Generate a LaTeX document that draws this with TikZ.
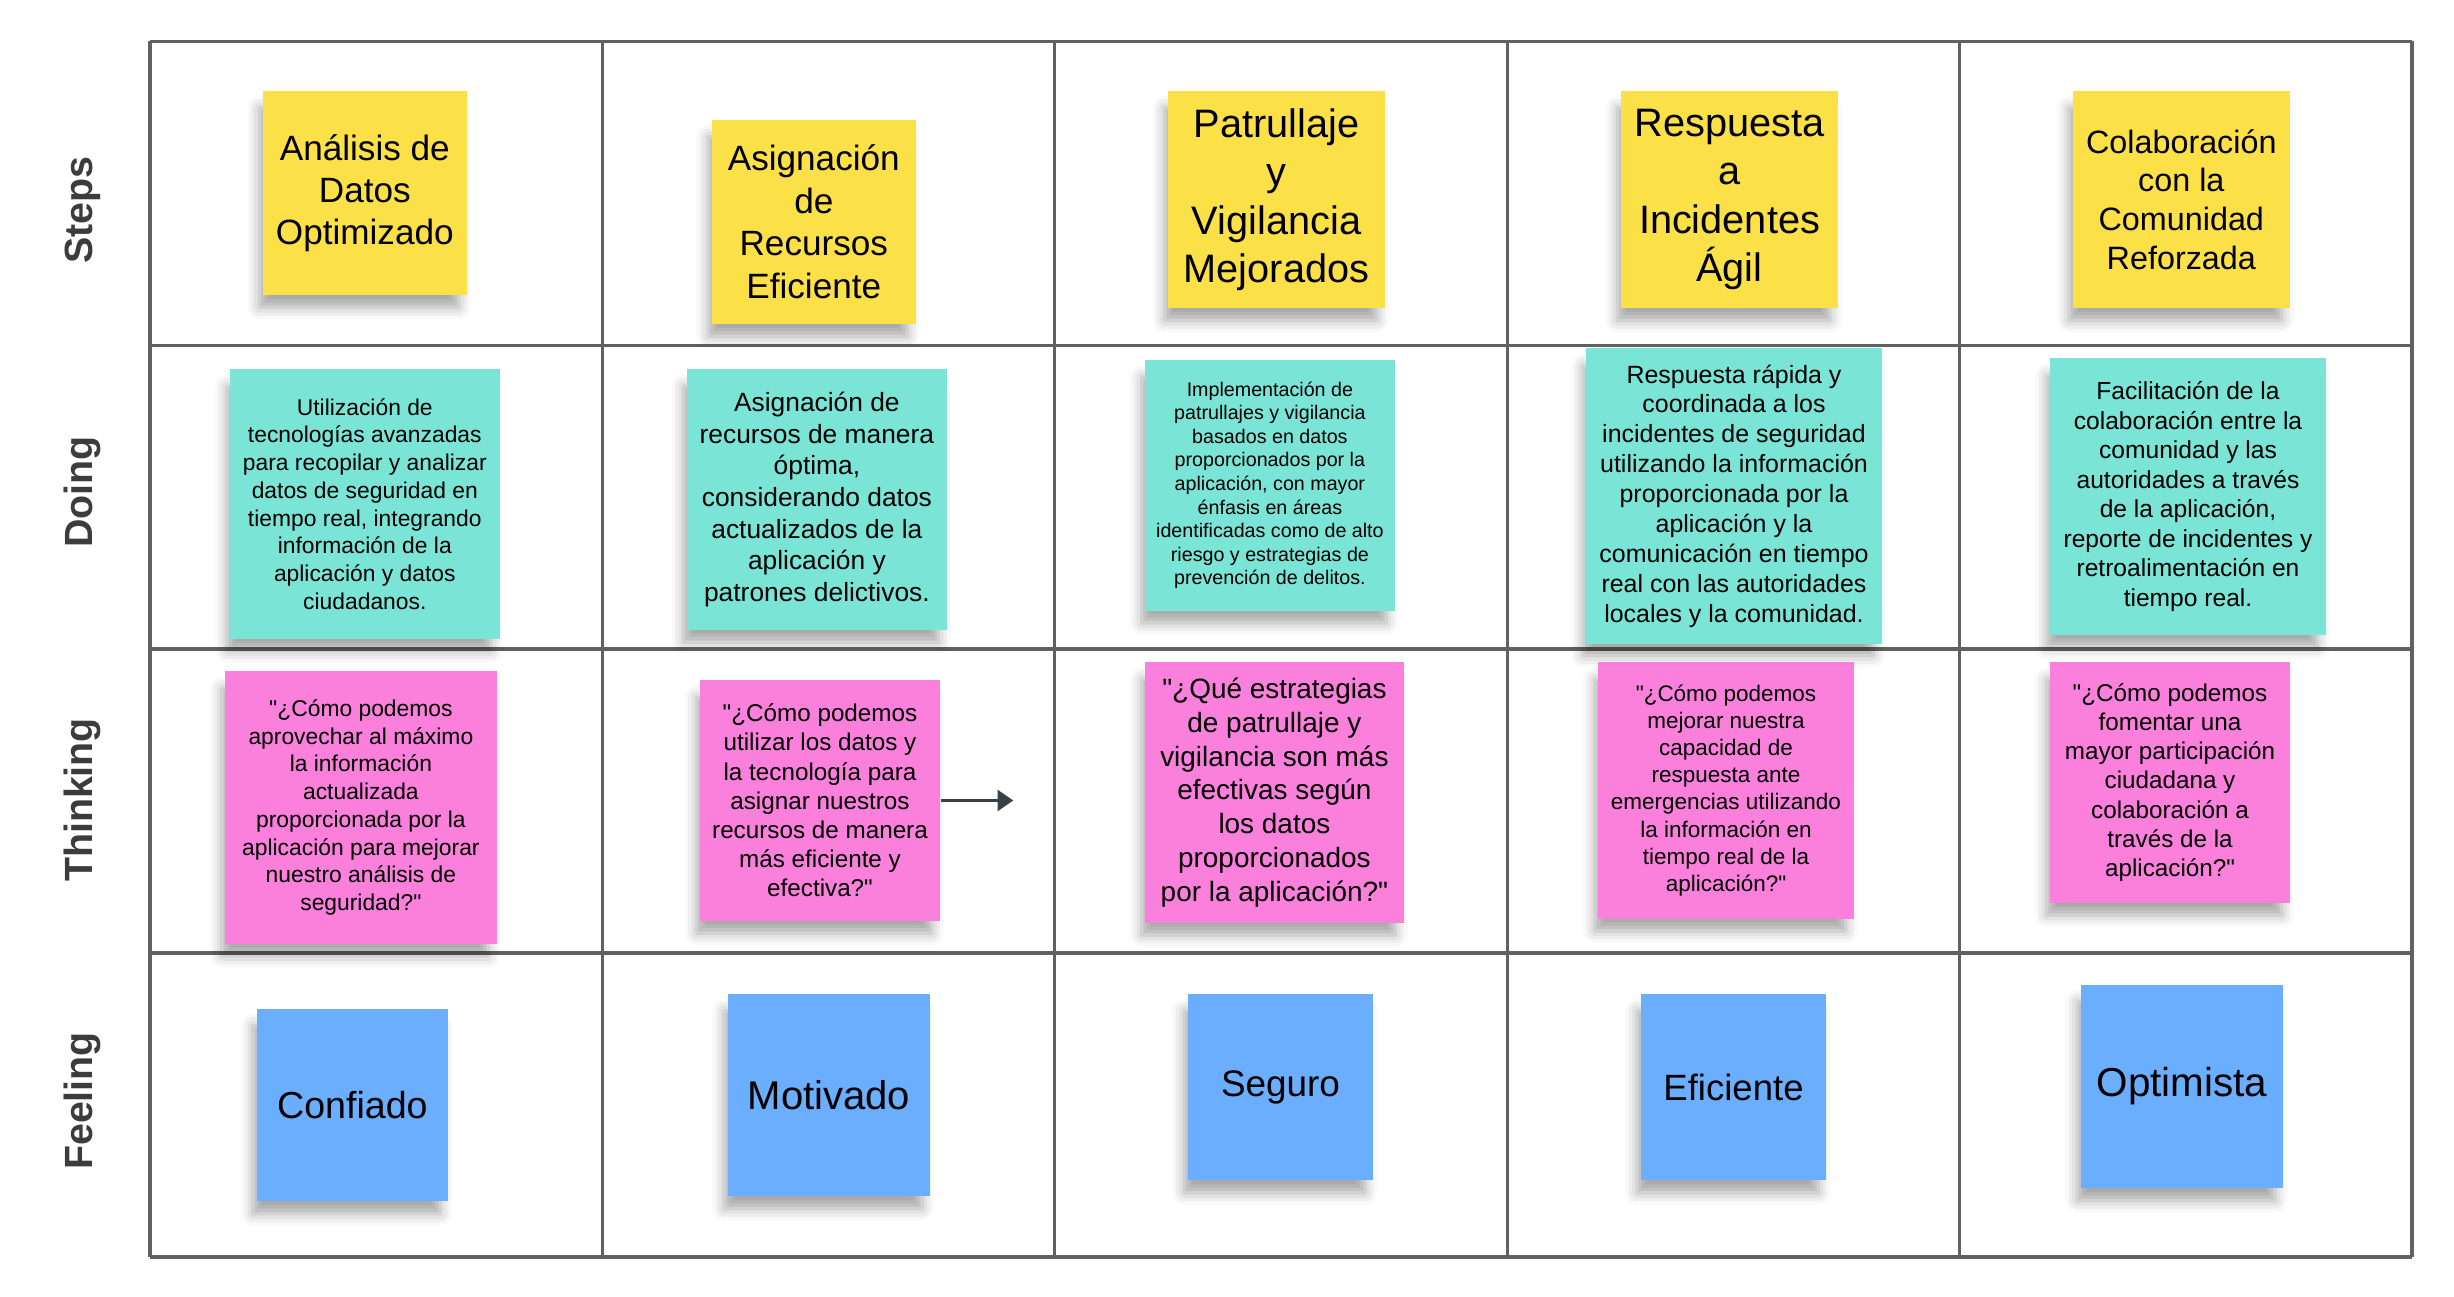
\documentclass[tikz,border=0pt]{standalone}
\usepackage{fontspec}
\setmainfont{Liberation Sans}[Ligatures=TeXOff]
\usetikzlibrary{arrows.meta,shadows.blur}

\definecolor{gridgray}{HTML}{616161}
\definecolor{labelgray}{HTML}{3C3C3C}
\definecolor{arrowgray}{HTML}{3A4048}
\definecolor{stepyellow}{HTML}{FCE048}
\definecolor{doingteal}{HTML}{7AE4D6}
\definecolor{thinkpink}{HTML}{FA80DC}
\definecolor{feelblue}{HTML}{6BAEFD}

\tikzstyle{note} = [rectangle, inner sep=0pt, align=center, text=black,
  blur shadow={shadow xshift=-0.06cm, shadow yshift=-0.15cm, shadow blur radius=0.12cm, shadow opacity=35, shadow scale=0.98}]
\tikzstyle{stepnote}=[note, fill=stepyellow]
\tikzstyle{doingnote}=[note, fill=doingteal]
\tikzstyle{thinknote}=[note, fill=thinkpink]
\tikzstyle{feelnote}=[note, fill=feelblue]
\tikzstyle{rowlabel}=[rotate=90, anchor=base, text=labelgray, font=\fontsize{11.2pt}{13pt}\selectfont\bfseries]
\tikzstyle{arrow}=[-{Triangle[length=0.156cm, width=0.207cm]}, line width=0.03cm, arrowgray]

\begin{document}
\begin{tikzpicture}
  \useasboundingbox (0,0) rectangle (24.54,12.96);

  % grid
  \foreach \c in {0,...,5}
    \draw[gridgray, line width=0.033cm] (1.50+\c*4.524,0.39) -- (1.50+\c*4.524,12.547);
  \foreach \r in {0,...,4}
    \draw[gridgray, line width=0.033cm] (1.50,0.39+\r*3.03925) -- (24.12,0.39+\r*3.03925);

  \node[rowlabel](steps) at (0.93,10.86) {Steps};
  \node[rowlabel](doing) at (0.93,8.04) {Doing};
  \node[rowlabel](thinking) at (0.93,4.96) {Thinking};
  \node[rowlabel](feeling) at (0.93,1.95) {Feeling};

  % steps
  \node[stepnote, minimum width=2.035cm, minimum height=2.037cm, font=\fontsize{10pt}{12pt}\selectfont](stepone) at (3.648,11.03) {Análisis de\\Datos\\Optimizado};
  \node[stepnote, minimum width=2.035cm, minimum height=2.037cm, font=\fontsize{10pt}{12.1pt}\selectfont](steptwo) at (8.138,10.742) {Asignación\\de\\Recursos\\Eficiente};
  \node[stepnote, minimum width=2.17cm, minimum height=2.17cm, font=\fontsize{11.3pt}{13.8pt}\selectfont](stepthree) at (12.765,10.965) {Patrullaje\\y\\Vigilancia\\Mejorados};
  \node[stepnote, minimum width=2.17cm, minimum height=2.17cm, font=\fontsize{11.3pt}{13.8pt}\selectfont](stepfour) at (17.295,10.965) {Respuesta\\a\\Incidentes\\Ágil};
  \node[stepnote, minimum width=2.174cm, minimum height=2.17cm, font=\fontsize{9.2pt}{11pt}\selectfont](stepfive) at (21.813,10.965) {Colaboración\\con la\\Comunidad\\Reforzada};

  % doing
  \node[doingnote, minimum width=2.695cm, minimum height=2.695cm, font=\fontsize{6.5pt}{7.9pt}\selectfont](doingone) at (3.648,7.92) {Utilización de\\tecnologías avanzadas\\para recopilar y analizar\\datos de seguridad en\\tiempo real, integrando\\información de la\\aplicación y datos\\ciudadanos.};
  \node[doingnote, minimum width=2.602cm, minimum height=2.61cm, font=\fontsize{7.5pt}{9pt}\selectfont](doingtwo) at (8.169,7.965) {Asignación de\\recursos de manera\\óptima,\\considerando datos\\actualizados de la\\aplicación y\\patrones delictivos.};
  \node[doingnote, minimum width=2.497cm, minimum height=2.507cm, font=\fontsize{5.6pt}{6.7pt}\selectfont](doingthree) at (12.699,8.107) {Implementación de\\patrullajes y vigilancia\\basados en datos\\proporcionados por la\\aplicación, con mayor\\énfasis en áreas\\identificadas como de alto\\riesgo y estrategias de\\prevención de delitos.};
  \node[doingnote, minimum width=2.96cm, minimum height=2.96cm, font=\fontsize{7.1pt}{8.5pt}\selectfont](doingfour) at (17.34,8.0) {Respuesta rápida y\\coordinada a los\\incidentes de seguridad\\utilizando la información\\proporcionada por la\\aplicación y la\\comunicación en tiempo\\real con las autoridades\\locales y la comunidad.};
  \node[doingnote, minimum width=2.76cm, minimum height=2.77cm, font=\fontsize{7pt}{8.4pt}\selectfont](doingfive) at (21.88,7.995) {Facilitación de la\\colaboración entre la\\comunidad y las\\autoridades a través\\de la aplicación,\\reporte de incidentes y\\retroalimentación en\\tiempo real.};

  % thinking
  \node[thinknote, minimum width=2.717cm, minimum height=2.73cm, font=\fontsize{6.5pt}{7.9pt}\selectfont](thinkone) at (3.609,4.885) {"¿Cómo podemos\\aprovechar al máximo\\la información\\actualizada\\proporcionada por la\\aplicación para mejorar\\nuestro análisis de\\seguridad?"};
  \node[thinknote, minimum width=2.40cm, minimum height=2.41cm, font=\fontsize{6.9pt}{8.3pt}\selectfont](thinktwo) at (8.20,4.955) {"¿Cómo podemos\\utilizar los datos y\\la tecnología para\\asignar nuestros\\recursos de manera\\más eficiente y\\efectiva?"};
  \node[thinknote, minimum width=2.587cm, minimum height=2.61cm, font=\fontsize{7.95pt}{9.6pt}\selectfont](thinkthree) at (12.744,5.035) {"¿Qué estrategias\\de patrullaje y\\vigilancia son más\\efectivas según\\los datos\\proporcionados\\por la aplicación?"};
  \node[thinknote, minimum width=2.56cm, minimum height=2.57cm, font=\fontsize{6.4pt}{7.7pt}\selectfont](thinkfour) at (17.26,5.055) {"¿Cómo podemos\\mejorar nuestra\\capacidad de\\respuesta ante\\emergencias utilizando\\la información en\\tiempo real de la\\aplicación?"};
  \node[thinknote, minimum width=2.40cm, minimum height=2.41cm, font=\fontsize{6.9pt}{8.3pt}\selectfont](thinkfive) at (21.70,5.135) {"¿Cómo podemos\\fomentar una\\mayor participación\\ciudadana y\\colaboración a\\través de la\\aplicación?"};

  % feeling
  \node[feelnote, minimum width=1.912cm, minimum height=1.92cm, font=\fontsize{10.7pt}{13pt}\selectfont](feelone) at (3.524,1.91) {Confiado};
  \node[feelnote, minimum width=2.02cm, minimum height=2.02cm, font=\fontsize{11.4pt}{13pt}\selectfont](feeltwo) at (8.29,2.01) {Motivado};
  \node[feelnote, minimum width=1.85cm, minimum height=1.86cm, font=\fontsize{10.5pt}{13pt}\selectfont](feelthree) at (12.805,2.09) {Seguro};
  \node[feelnote, minimum width=1.85cm, minimum height=1.86cm, font=\fontsize{10.4pt}{13pt}\selectfont](feelfour) at (17.335,2.09) {Eficiente};
  \node[feelnote, minimum width=2.02cm, minimum height=2.03cm, font=\fontsize{11.5pt}{13pt}\selectfont](feelfive) at (21.82,2.095) {Optimista};

  \coordinate (thinktip) at (10.133,4.955);
  \draw[arrow] (thinktwo.east) -- (thinktip);

\end{tikzpicture}
\end{document}
